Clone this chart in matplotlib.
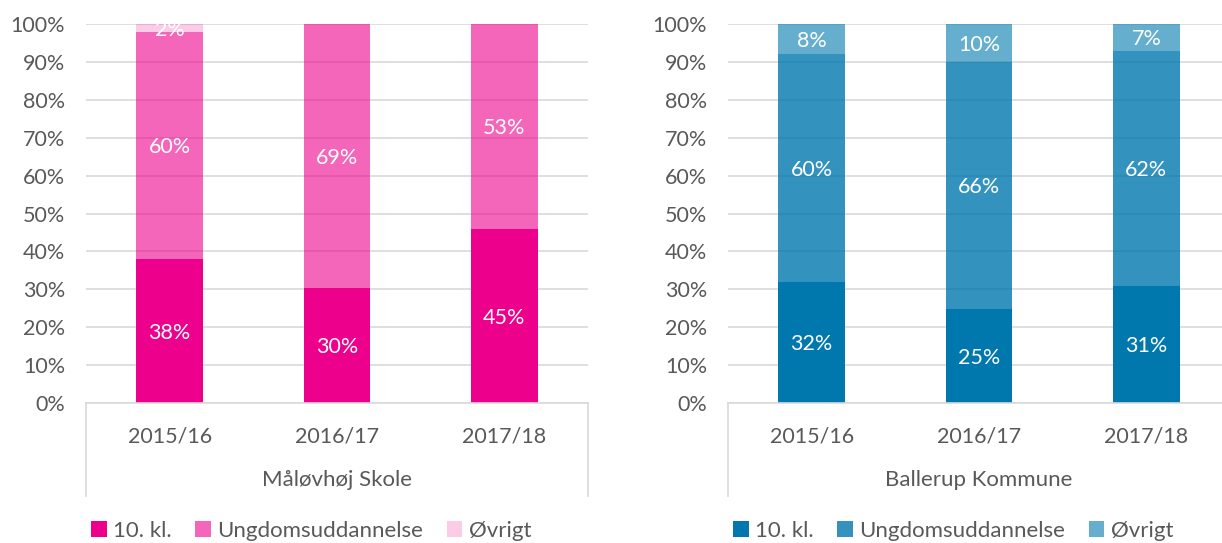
import numpy as np
import matplotlib.pyplot as plt

plt.rcParams['font.family'] = ['Lato', 'DejaVu Sans']

years = ['2015/16', '2016/17', '2017/18']
series = ['10. kl.', 'Ungdomsuddannelse', 'Øvrigt']

# shares in percent, as labelled in the chart
maalov_10kl = [38, 30, 45]
maalov_ungdom = [60, 69, 53]
maalov_ovrigt = [2, 0, 0]

ballerup_10kl = [32, 25, 31]
ballerup_ungdom = [60, 66, 62]
ballerup_ovrigt = [8, 10, 7]

pink = '#EC008C'
blue = '#0078AE'
grey_txt = '#595959'
grid_col = '#D9D9D9'

W, H = 1222, 543
fig = plt.figure(figsize=(W / 100, H / 100), dpi=100)


def panel(rect, data, base, alphas, title, legend_x):
    ax = fig.add_axes(rect)
    data = np.array(data, dtype=float)
    totals = data.sum(axis=0)
    shares = data / totals * 100  # 100% stacked, like Excel
    x = np.arange(len(years))
    bottom = np.zeros(len(years))
    handles = []
    for i, name in enumerate(series):
        bars = ax.bar(x, shares[i], 0.4, bottom=bottom, color=base, alpha=alphas[i],
                      linewidth=0, zorder=2, label=name)
        handles.append(bars)
        for j in range(len(years)):
            if data[i, j] > 0:
                ax.text(x[j], bottom[j] + shares[i, j] / 2 - 0.5, '%d%%' % data[i, j],
                        ha='center', va='center', color='white', fontsize=15.5, zorder=4)
        bottom += shares[i]

    ax.set_xlim(-0.5, 2.5)
    ax.set_ylim(0, 100)
    ax.set_yticks(np.arange(0, 101, 10))
    ax.set_yticklabels(['%d%%' % v for v in range(0, 101, 10)])
    ax.yaxis.grid(True, color=grid_col, linewidth=1.2, zorder=1)
    ax.set_axisbelow(True)
    ax.set_xticks(x)
    ax.set_xticklabels(years)
    ax.tick_params(axis='both', length=0, labelsize=15.5, labelcolor=grey_txt)
    ax.tick_params(axis='x', pad=17)
    ax.tick_params(axis='y', pad=15)
    for s in ['top', 'right', 'left']:
        ax.spines[s].set_visible(False)
    ax.spines['bottom'].set_color(grid_col)
    ax.spines['bottom'].set_linewidth(1.2)

    # box lines around the category area
    depth = -(496 - 403) / 379
    for xx in (0, 1):
        ax.plot([xx, xx], [0, depth], transform=ax.transAxes, color=grid_col,
                linewidth=1.2, clip_on=False)
    ax.text(0.5, -0.203, title, transform=ax.transAxes, ha='center', va='center',
            fontsize=16, color=grey_txt)

    fig.legend(handles=handles, loc='center left', bbox_to_anchor=(legend_x, 0.022),
               ncol=3, frameon=False, fontsize=16, labelcolor=grey_txt,
               handlelength=0.7, handleheight=0.7, handletextpad=0.3,
               columnspacing=1.05, borderaxespad=0, borderpad=0)
    return ax


panel([86 / W, 140 / H, 502 / W, 379 / H],
      [maalov_10kl, maalov_ungdom, maalov_ovrigt],
      pink, [1.0, 0.6, 0.2], 'Måløvhøj Skole', 91 / W)
panel([728 / W, 140 / H, 502 / W, 379 / H],
      [ballerup_10kl, ballerup_ungdom, ballerup_ovrigt],
      blue, [1.0, 0.8, 0.6], 'Ballerup Kommune', 733 / W)

fig.savefig('out.png', dpi=100)
